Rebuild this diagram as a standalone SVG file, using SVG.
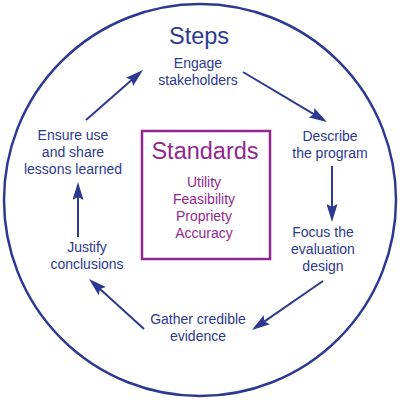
<svg xmlns="http://www.w3.org/2000/svg" width="400" height="400" viewBox="0 0 400 400">
<style>
.step{font-family:"Liberation Sans",Arial,sans-serif;font-size:14px;fill:#2B3990;text-anchor:middle}
.title{font-family:"Liberation Sans",Arial,sans-serif;font-size:23.5px;fill:#2B3990;text-anchor:middle}
.std{font-family:"Liberation Sans",Arial,sans-serif;font-size:14px;fill:#93278F;text-anchor:middle}
.stdt{font-family:"Liberation Sans",Arial,sans-serif;font-size:23.5px;fill:#93278F;text-anchor:middle}
.conn line{stroke:#2B3990;stroke-width:2;marker-end:url(#ah)}
</style>
<defs>
<marker id="ah" markerUnits="userSpaceOnUse" viewBox="0 0 18 11" markerWidth="18" markerHeight="11" refX="12" refY="5.5" orient="auto">
<path d="M0,0 L18,5.5 L0,11 L3,5.5 Z" fill="#2B3990"/>
</marker>
</defs>
<rect width="400" height="400" fill="#fff"/>
<g id="frame">
<circle cx="200" cy="200" r="196" fill="none" stroke="#2B3990" stroke-width="2.5"/>
<text class="title" x="199" y="44">Steps</text>
</g>
<g id="standards">
<rect x="142" y="131" width="128" height="128" fill="none" stroke="#93278F" stroke-width="2.5"/>
<text class="stdt" x="205" y="159">Standards</text>
<text class="std" x="204" y="187">Utility</text>
<text class="std" x="204" y="204">Feasibility</text>
<text class="std" x="204" y="221">Propriety</text>
<text class="std" x="204" y="238">Accuracy</text>
</g>
<g id="engage">
<text class="step" x="198" y="68">Engage</text>
<text class="step" x="198" y="85">stakeholders</text>
</g>
<g id="describe">
<text class="step" x="330" y="141">Describe</text>
<text class="step" x="330" y="158">the program</text>
</g>
<g id="focus">
<text class="step" x="323" y="237">Focus the</text>
<text class="step" x="323" y="254">evaluation</text>
<text class="step" x="323" y="271">design</text>
</g>
<g id="gather">
<text class="step" x="198" y="324">Gather credible</text>
<text class="step" x="198" y="341">evidence</text>
</g>
<g id="justify">
<text class="step" x="87" y="252">Justify</text>
<text class="step" x="87" y="269">conclusions</text>
</g>
<g id="ensure">
<text class="step" x="73" y="140">Ensure use</text>
<text class="step" x="73" y="157">and share</text>
<text class="step" x="73" y="174">lessons learned</text>
</g>
<g id="connectors" class="conn">
<line x1="86" y1="120" x2="138.5" y2="74"/>
<line x1="243" y1="72" x2="321.8" y2="118.9"/>
<line x1="332" y1="166" x2="332" y2="216"/>
<line x1="323" y1="281" x2="256.9" y2="326.6"/>
<line x1="144" y1="329" x2="93.4" y2="283"/>
<line x1="78" y1="237" x2="78" y2="188"/>
</g>
</svg>
